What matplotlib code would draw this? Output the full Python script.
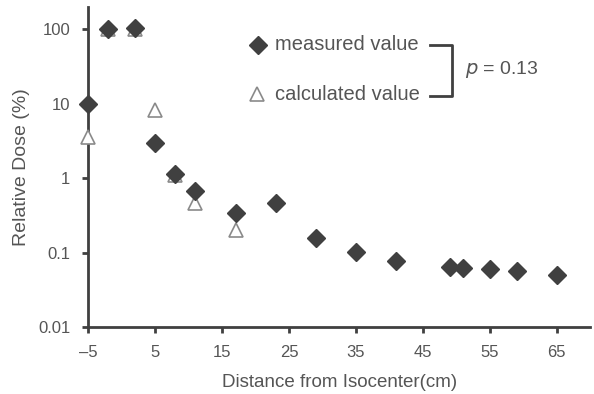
import matplotlib
matplotlib.use('Agg')
import matplotlib.pyplot as plt

plt.rcParams['font.family'] = ['Liberation Sans', 'DejaVu Sans']

# measured dose (diamonds)
meas_x = [-5, -2, 2, 5, 8, 11, 17, 23, 29, 35, 41, 49, 51, 55, 59, 65]
meas_y = [10, 102, 106, 3.0, 1.13, 0.67, 0.34, 0.47, 0.155, 0.102, 0.078,
          0.065, 0.062, 0.060, 0.057, 0.050]

# calculated dose (triangles)
calc_x = [-5, -2, 2, 5, 8, 11, 17]
calc_y = [3.6, 100, 100, 8.4, 1.1, 0.47, 0.2]

xticks = [-5, 5, 15, 25, 35, 45, 55, 65]
yticks = [0.01, 0.1, 1, 10, 100]
ylabels = ['0.01', '0.1', '1', '10', '100']

dark = '#404040'
txt = '#555555'

fig = plt.figure(figsize=(5.94, 3.94), dpi=100)
ax = fig.add_axes([0.1486, 0.170, 0.845, 0.812])

ax.plot(calc_x, calc_y, linestyle='none', marker='^', ms=10,
        mfc='white', mec='#8a8a8a', mew=1.2, zorder=2, clip_on=False)
ax.plot(meas_x, meas_y, linestyle='none', marker='D', ms=9,
        mfc=dark, mec=dark, zorder=3, clip_on=False)

ax.set_yscale('log')
ax.set_ylim(0.01, 200)
ax.set_xlim(-5, 70)
ax.set_xticks(xticks)
ax.set_xticklabels(['\u20135' if t < 0 else str(t) for t in xticks])
ax.set_yticks(yticks)
ax.set_yticklabels(ylabels)
ax.minorticks_off()

for s in ['top', 'right']:
    ax.spines[s].set_visible(False)
for s in ['left', 'bottom']:
    ax.spines[s].set_linewidth(2)
    ax.spines[s].set_color(dark)
    ax.spines[s].set_zorder(1)
ax.tick_params(axis='both', direction='out', length=4, width=2,
               color=dark, labelcolor=txt, labelsize=12)
ax.tick_params(axis='x', pad=9)
ax.tick_params(axis='y', pad=9)

ax.set_xlabel('Distance from Isocenter(cm)', fontsize=13.5, color=txt, labelpad=10)
ax.set_ylabel('Relative Dose (%)', fontsize=14, color=txt, labelpad=6)

# legend drawn by hand in figure pixels
def fx(px):
    return px / 594.0

def fy(py):
    return 1 - py / 394.0

fig.lines.append(plt.Line2D([fx(258)], [fy(45)], marker='D', ms=9,
                            mfc=dark, mec=dark, transform=fig.transFigure))
fig.lines.append(plt.Line2D([fx(257)], [fy(94)], marker='^', ms=10,
                            mfc='white', mec='#8a8a8a', mew=1.2,
                            transform=fig.transFigure))
fig.text(fx(275), fy(45), 'measured value', fontsize=14.5, color=txt, va='center')
fig.text(fx(275), fy(94), 'calculated value', fontsize=14.5, color=txt, va='center')
fig.lines.append(plt.Line2D([fx(430), fx(452), fx(452), fx(430)],
                            [fy(45), fy(45), fy(96), fy(96)],
                            color=dark, lw=2, transform=fig.transFigure))
fig.text(fx(465), fy(70), '$p$ = 0.13', fontsize=14, color=txt, va='center')

plt.savefig('out.png', dpi=100)
